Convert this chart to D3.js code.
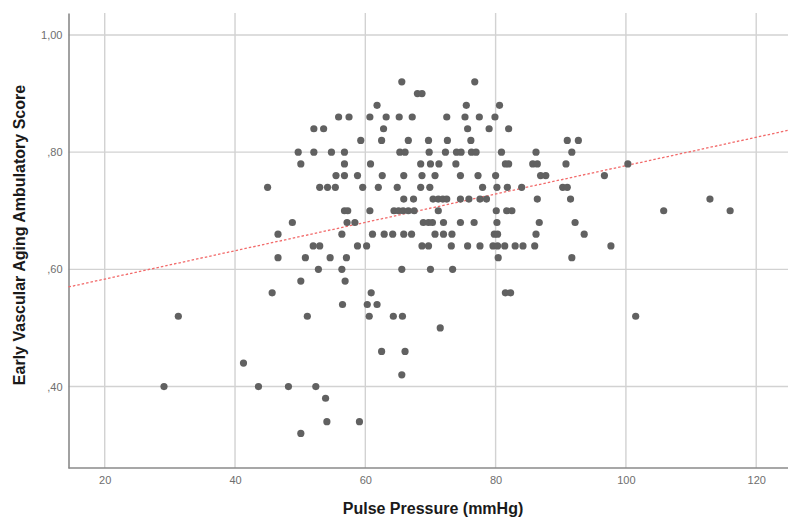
<!DOCTYPE html>
<html>
<head>
<meta charset="utf-8">
<script src="https://cdn.jsdelivr.net/npm/d3@7/dist/d3.min.js"></script>
<style>
  html, body { margin: 0; padding: 0; background: #ffffff; }
  svg { display: block; }
</style>
</head>
<body>
<script>
// ---- Data ----
const xTicks = [20, 40, 60, 80, 100, 120];
const yTicks = [0.40, 0.60, 0.80, 1.00];
const yTickLabels = [",40", ",60", ",80", "1,00"];
const xTitle = "Pulse Pressure (mmHg)";
const yTitle = "Early Vascular Aging Ambulatory Score";

// score rows (EVA score) and pulse pressure values in each row
const scoreRows = [0.92, 0.90, 0.88, 0.86, 0.84, 0.82, 0.80, 0.78, 0.76, 0.74, 0.72, 0.70,
                   0.68, 0.66, 0.64, 0.62, 0.60, 0.58, 0.56, 0.54, 0.52, 0.50, 0.46, 0.44,
                   0.42, 0.40, 0.38, 0.34, 0.32];
const pulsePressureByRow = [
  [65.6, 76.8],
  [68.0, 68.7],
  [61.8, 75.5, 80.6],
  [55.9, 57.5, 60.7, 63.2, 65.2, 67.2, 72.5, 75.3, 77.5, 79.9],
  [52.1, 53.6, 62.8, 75.7, 79.0, 82.0],
  [59.3, 62.5, 66.6, 69.7, 72.6, 76.2, 91.0, 92.7],
  [49.7, 52.1, 54.8, 56.8, 65.3, 66.1, 69.8, 72.3, 74.0, 74.7, 76.3, 77.0, 80.9, 86.2, 91.7],
  [50.1, 56.8, 60.8, 68.5, 70.0, 71.3, 73.9, 81.5, 82.0, 85.7, 86.4, 90.8, 100.3],
  [55.5, 56.8, 58.8, 62.6, 65.9, 68.7, 70.7, 74.6, 77.3, 80.0, 86.9, 87.7, 96.7],
  [45.0, 53.0, 54.2, 55.4, 59.6, 62.0, 64.9, 68.5, 69.9, 78.0, 80.2, 81.8, 84.0, 90.3, 91.0],
  [65.9, 67.4, 70.4, 71.2, 71.9, 72.5, 74.6, 75.9, 77.6, 78.6, 86.4, 91.5, 112.9],
  [56.8, 57.3, 60.7, 64.4, 65.1, 65.8, 66.6, 67.5, 71.2, 80.1, 81.7, 82.5, 105.8, 116.0],
  [48.8, 57.2, 58.4, 68.9, 69.7, 70.3, 72.0, 74.6, 76.7, 80.2, 86.7, 92.2],
  [46.6, 56.4, 61.1, 62.9, 64.2, 65.9, 67.1, 70.7, 72.0, 73.3, 79.8, 80.3, 86.2, 93.6],
  [52.0, 53.0, 58.8, 60.2, 68.7, 69.7, 73.2, 75.7, 77.6, 79.6, 80.3, 81.4, 83.0, 84.2, 86.0, 97.7],
  [46.6, 50.8, 54.6, 57.1, 80.4, 91.7],
  [52.8, 56.4, 65.6, 70.0, 73.4],
  [50.1, 56.9],
  [45.7, 60.9, 81.5, 82.3],
  [56.5, 60.3, 61.8],
  [31.3, 51.1, 60.6, 64.3, 65.7, 101.5],
  [71.5],
  [62.5, 66.1],
  [41.3],
  [65.6],
  [29.1, 43.6, 48.2, 52.4],
  [53.9],
  [54.1, 59.1],
  [50.1]
];
// linear fit line (intercept, slope)
const fitIntercept = [0.535];
const fitSlope = [0.00242];

// ---- Layout ----
const W = 788, H = 518;
const margin = { left: 68.5, right: 0, top: 13, bottom: 50 };
const plotW = W - margin.left - margin.right;
const plotH = H - margin.top - margin.bottom;

const xDomain = [14.44, 124.88];
const yDomain = [0.261, 1.0375];

const svg = d3.select("body").append("svg")
  .attr("width", W).attr("height", H);

const x = d3.scaleLinear().domain(xDomain).range([margin.left, margin.left + plotW]);
const y = d3.scaleLinear().domain(yDomain).range([margin.top + plotH, margin.top]);

// grid lines
const grid = svg.append("g");
grid.selectAll("line.vx").data(xTicks).enter().append("line")
  .attr("x1", d => x(d)).attr("x2", d => x(d))
  .attr("y1", margin.top).attr("y2", margin.top + plotH)
  .attr("stroke", "#d2d2d2").attr("stroke-width", 1.4);
grid.selectAll("line.hy").data(yTicks).enter().append("line")
  .attr("x1", margin.left).attr("x2", margin.left + plotW)
  .attr("y1", d => y(d)).attr("y2", d => y(d))
  .attr("stroke", "#d2d2d2").attr("stroke-width", 1.4);

// axes
const xAxis = d3.axisBottom(x).tickValues(xTicks).tickSize(0).tickPadding(8).tickFormat(d3.format("d"));
const yAxis = d3.axisLeft(y).tickValues(yTicks).tickSize(0).tickPadding(6)
  .tickFormat((d, i) => yTickLabels[i]);

const gx = svg.append("g").attr("transform", `translate(0,${margin.top + plotH})`).call(xAxis);
const gy = svg.append("g").attr("transform", `translate(${margin.left},0)`).call(yAxis);

[gx, gy].forEach(g => {
  g.select(".domain").attr("stroke", "#8a8a8a").attr("stroke-width", 1.6);
  g.selectAll("text").attr("fill", "#6e6e6e").style("font-family", "Liberation Sans, Arial, sans-serif")
    .style("font-size", "11px");
});
gx.select(".domain").attr("d", `M${margin.left},0H${W}`);

// fit line
const fitData = xDomain.map(v => ({ x: v, y: fitIntercept[0] + fitSlope[0] * v }));
svg.append("path")
  .datum(fitData)
  .attr("d", d3.line().x(d => x(d.x)).y(d => y(d.y)))
  .attr("fill", "none")
  .attr("stroke", "#f26a6a")
  .attr("stroke-width", 1.3)
  .attr("stroke-dasharray", "2.5,2");

// points
const points = [];
scoreRows.forEach((s, i) => pulsePressureByRow[i].forEach(p => points.push({ x: p, y: s })));
svg.append("g").selectAll("circle").data(points).enter().append("circle")
  .attr("cx", d => x(d.x)).attr("cy", d => y(d.y))
  .attr("r", 3.6)
  .attr("fill", "#616161");

// titles
svg.append("text")
  .attr("x", 433).attr("y", 514)
  .attr("text-anchor", "middle")
  .attr("fill", "#1a1a1a")
  .style("font-family", "Liberation Sans, Arial, sans-serif")
  .style("font-size", "16px")
  .style("font-weight", "bold")
  .text(xTitle);

svg.append("text")
  .attr("transform", `translate(25,235) rotate(-90)`)
  .attr("text-anchor", "middle")
  .attr("fill", "#1a1a1a")
  .style("font-family", "Liberation Sans, Arial, sans-serif")
  .style("font-size", "16px")
  .style("font-weight", "bold")
  .text(yTitle);
</script>
</body>
</html>
